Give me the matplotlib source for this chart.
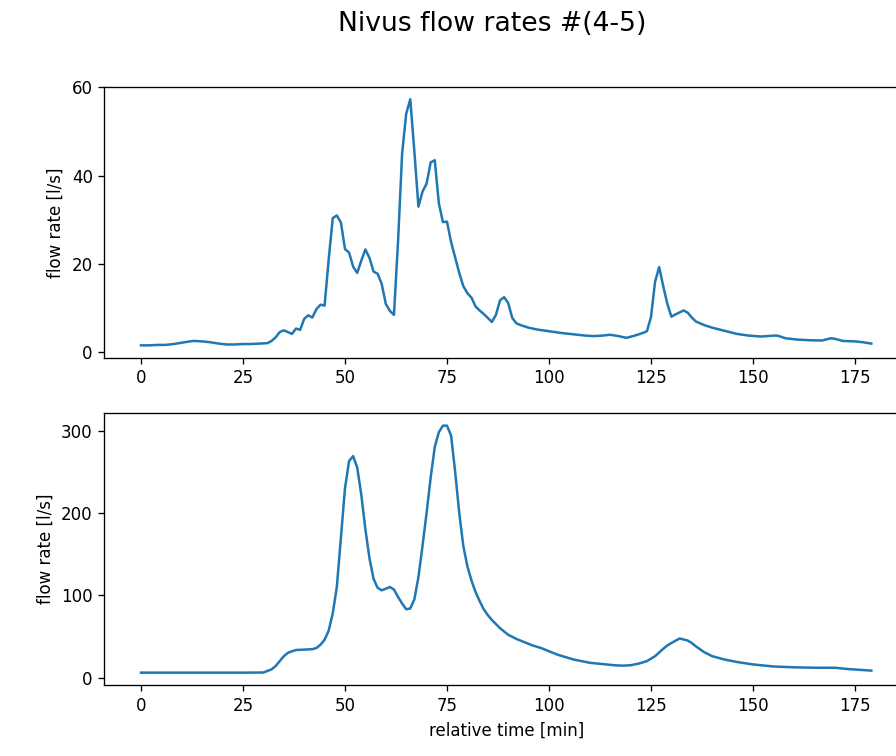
import matplotlib
matplotlib.use("Agg")
import matplotlib.pyplot as plt

# upper sensor (#4)
t_top = [0, 2, 4, 6, 8, 10, 12, 13, 15, 17, 19, 21, 23, 25, 27, 29, 31, 32, 33, 34,
         35, 36, 37, 38, 39, 40, 41, 42, 43, 44, 45, 46, 47, 48, 49, 50, 51, 52, 53, 54,
         55, 56, 57, 58, 59, 60, 61, 62, 63, 64, 65, 66, 67, 68, 69, 70, 71, 72, 73, 74,
         75, 76, 77, 78, 79, 80, 81, 82, 83, 84, 85, 86, 87, 88, 89, 90, 91, 92, 93, 95,
         97, 100, 103, 106, 109, 111, 113, 115, 117, 119, 121, 123, 124, 125, 126, 127,
         128, 129, 130, 131, 133, 134, 135, 136, 138, 140, 143, 146, 149, 152, 155, 156,
         158, 161, 164, 167, 169, 170, 172, 175, 177, 179]
q_top = [1.6, 1.6, 1.7, 1.7, 1.9, 2.2, 2.5, 2.6, 2.5, 2.3, 2.0, 1.8, 1.8, 1.9, 1.9, 2.0, 2.1, 2.6, 3.4, 4.6,
         5.0, 4.6, 4.2, 5.4, 5.1, 7.6, 8.4, 7.9, 9.8, 10.8, 10.6, 21.0, 30.4, 31.0, 29.4, 23.4, 22.6, 19.4, 18.0, 20.8,
         23.3, 21.4, 18.3, 17.8, 15.5, 11.0, 9.4, 8.5, 25.0, 45.0, 54.0, 57.3, 45.5, 33.0, 36.4, 38.2, 43.0, 43.5, 33.8, 29.5,
         29.6, 25.0, 21.5, 18.0, 15.0, 13.4, 12.4, 10.4, 9.5, 8.7, 7.8, 6.9, 8.5, 11.8, 12.5, 11.2, 7.8, 6.6, 6.2, 5.6,
         5.2, 4.8, 4.4, 4.1, 3.8, 3.7, 3.8, 4.0, 3.7, 3.3, 3.8, 4.4, 4.8, 8.0, 16.0, 19.3,
         15.0, 11.0, 8.1, 8.6, 9.5, 9.0, 7.9, 7.0, 6.2, 5.6, 4.9, 4.2, 3.8, 3.6, 3.8, 3.8,
         3.2, 2.9, 2.75, 2.7, 3.2, 3.1, 2.6, 2.5, 2.3, 2.0]

# lower sensor (#5)
t_bot = [0, 5, 10, 15, 20, 25, 30, 32, 33, 34, 35, 36, 37, 38, 40, 42, 43, 44, 45, 46,
         47, 48, 49, 50, 51, 52, 53, 54, 55, 56, 57, 58, 59, 60, 61, 62, 63, 64, 65, 66,
         67, 68, 69, 70, 71, 72, 73, 74, 75, 76, 77, 78, 79, 80, 81, 82, 83, 84, 85, 86,
         88, 90, 92, 94, 96, 98, 100, 102, 104, 106, 108, 110, 113, 116, 118, 120, 122, 124, 126, 128,
         129, 130, 132, 134, 135, 136, 138, 140, 143, 146, 150, 155, 160, 165, 170, 173, 176, 179]
q_bot = [6.0, 6.0, 6.0, 6.0, 6.0, 6.0, 6.2, 10, 14, 20, 26, 30, 32, 33.5, 34, 34.5, 36, 40, 46, 57,
         78, 110, 170, 230, 263, 269, 255, 222, 180, 145, 120, 109, 106, 108, 110, 107, 98, 90, 83, 84,
         95, 122, 160, 200, 243, 280, 298, 306, 306, 294, 250, 200, 160, 135, 118, 104, 93, 83, 76, 70,
         60, 52, 47, 43, 39, 36, 32, 28, 25, 22, 20, 18, 16.5, 15, 14.5, 15, 17, 20, 26, 35,
         39, 42, 47.5, 45, 42, 38, 31, 26, 22, 19, 16, 13.5, 12.5, 12, 12, 10.5, 9.5, 8.5]

fig = plt.figure(figsize=(896 / 120, 756 / 120), dpi=120)
ax1 = fig.add_axes([0.1166, 0.5269, 0.8966, 0.3581])
ax2 = fig.add_axes([0.1166, 0.0939, 0.8966, 0.3594])

ax1.plot(t_top, q_top, color="C0")
ax1.set_ylabel("flow rate [l/s]")
ax1.set_yticks([0, 20, 40, 60])

ax2.plot(t_bot, q_bot, color="C0")
ax2.set_ylabel("flow rate [l/s]")
ax2.set_xlabel("relative time [min]")
ax2.set_yticks([0, 100, 200, 300])

for ax in (ax1, ax2):
    ax.set_xticks([0, 25, 50, 75, 100, 125, 150, 175])

fig.suptitle("Nivus flow rates #(4-5)", x=0.5488, y=1 - 24 / 756, va="center", fontsize=16)

fig.savefig("out.png", dpi=120)
